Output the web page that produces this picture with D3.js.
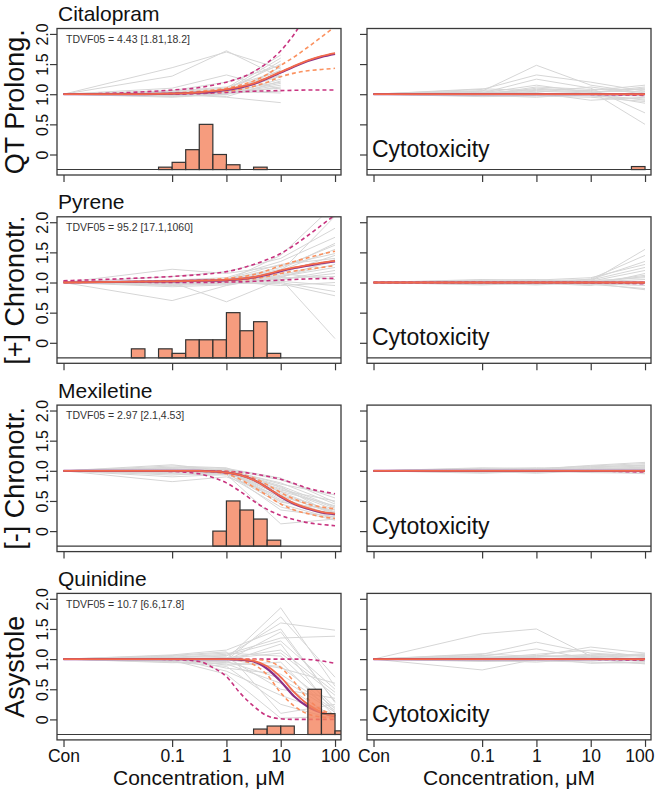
<!DOCTYPE html>
<html><head><meta charset="utf-8">
<script src="https://cdn.jsdelivr.net/npm/d3@7"></script>
<style>
body{margin:0;background:#fff}
text{font-family:"Liberation Sans",Arial,Helvetica,sans-serif}
</style>
</head><body>
<svg id="c" width="655" height="796"></svg>
<script>
// ---------------- DATA ----------------
const drugs = ["Citalopram","Pyrene","Mexiletine","Quinidine"];
const yTitles = ["QT Prolong.","[+] Chronotr.","[-] Chronotr.","Asystole"];
const tdvfLabels = ["TDVF05 = 4.43 [1.81,18.2]","TDVF05 = 95.2 [17.1,1060]","TDVF05 = 2.97 [2.1,4.53]","TDVF05 = 10.7 [6.6,17.8]"];
const rightLabel = "Cytotoxicity";
const xAxisTitle = "Concentration, \u03bcM";

// log10 concentration positions (Con plotted at -3)
const concLog = [-3,-1,0,1,2];
const xTickLabels = ["Con","0.1","1","10","100"];
const yTicks = [0,0.5,1,1.5,2];
const yTickLabels = ["0","0.5","1.0","1.5","2.0"];
const controlValue = 1;
const histBase = -0.25;
const binWidth = 0.25;

// individual traces: values at 0.1, 1, 10, 100 uM (null = not tested)
const grayCit = [
[1.02,1.03,1.10,null],[0.99,1.01,1.15,null],[1.00,1.05,1.20,null],[1.01,1.00,1.25,null],
[0.98,1.02,1.30,null],[1.03,1.06,1.35,null],[1.00,1.04,1.40,null],[0.97,0.99,1.45,null],
[1.02,1.08,1.50,null],[1.01,1.03,1.55,null],[0.99,1.07,1.60,null],[1.04,1.10,1.65,null],
[1.00,1.02,1.05,null],[0.98,1.00,1.12,null],[1.05,1.12,1.38,null],[1.01,0.96,1.22,null],
[0.96,1.01,1.18,null],[1.44,1.70,1.42,null],[1.30,1.72,1.28,null],[1.10,1.32,1.08,null],
[1.00,0.95,0.86,null],[1.06,1.20,1.48,null],[0.95,1.00,1.32,null],[1.02,1.05,1.02,null]];
const grayPyr = [
[1.00,1.02,1.10,1.30],[0.98,1.00,1.05,1.20],[1.02,1.04,1.15,1.45],[1.01,1.03,1.20,1.55],
[0.99,1.01,1.08,1.10],[1.03,1.05,1.25,1.62],[0.97,0.99,1.02,0.95],[1.00,1.06,1.30,1.40],
[1.02,1.00,1.12,1.35],[0.95,0.98,1.00,0.85],[1.04,1.08,1.35,1.75],[1.00,1.02,1.18,2.10],
[0.98,1.03,1.45,2.30],[1.01,1.00,0.98,0.78],[0.70,0.95,1.10,1.25],[1.00,0.68,1.05,1.15],
[1.22,1.15,1.28,1.48],[1.10,1.18,1.40,1.90],[0.96,1.01,1.06,0.07],[1.03,0.97,1.15,1.05],
[0.99,1.05,1.22,1.65],[1.01,1.02,0.95,1.00],[0.93,0.96,1.08,1.38]];
const grayMex = [
[1.00,0.98,0.70,0.35],[1.02,1.00,0.65,0.30],[0.98,0.97,0.60,0.28],[1.05,1.02,0.75,0.40],
[1.01,0.99,0.55,0.25],[0.97,0.95,0.50,0.22],[1.03,1.01,0.80,0.45],[1.00,0.96,0.45,0.20],
[0.99,1.03,0.85,0.55],[1.08,1.05,0.72,0.38],[0.95,0.93,0.40,0.18],[1.02,0.98,0.62,0.32],
[0.82,0.90,0.58,0.30],[1.10,1.00,0.68,0.50],[0.90,0.94,0.12,0.20],[1.00,1.02,0.78,0.60],
[0.96,0.99,0.52,0.27],[1.04,0.97,0.66,0.42],[0.98,1.01,0.48,0.35],[1.01,0.95,0.74,0.26],
[0.93,0.98,0.35,0.24],[1.06,1.04,0.88,0.48]];
const grayQui = [
[1.00,1.00,1.85,0.55],[1.02,1.05,1.60,1.48],[0.98,0.97,1.45,0.30],[1.03,1.08,1.35,1.38],
[1.00,0.95,1.25,0.10],[0.97,1.02,1.15,0.45],[1.05,1.10,1.05,0.20],[1.01,0.90,0.95,0.05],
[0.99,1.00,0.85,0.60],[1.04,0.85,0.75,0.15],[0.96,0.92,0.60,0.02],[1.00,1.03,0.50,0.35],
[1.02,0.80,0.40,0.08],[0.95,0.88,0.25,0.00],[1.06,1.12,0.10,0.25],[0.98,0.75,0.02,0.05],
[1.01,0.98,1.70,0.70],[1.03,1.06,1.30,0.50],[0.94,0.96,0.68,0.12],[1.00,1.01,1.10,0.40],
[0.99,0.94,0.88,0.18],[1.07,1.15,1.50,0.28]];
const grayCytoCit = [
[1.05,1.48,1.15,1.02],[1.08,1.32,1.20,1.05],[1.02,1.25,1.10,0.69],[0.98,1.10,1.05,0.50],
[1.00,1.05,1.02,1.10],[1.03,1.02,0.90,0.95],[0.97,0.98,1.00,0.85],[1.01,1.08,1.06,1.15],
[1.04,1.00,0.97,0.92],[0.99,1.12,1.08,1.08],[1.06,1.03,1.12,1.00],[0.96,0.97,0.95,0.88],
[1.02,1.15,1.03,1.12],[1.00,1.01,0.99,0.97],[1.09,1.06,1.04,1.05],[0.98,0.95,1.01,0.90]];
const grayCytoPyr = [
[1.00,1.02,1.00,1.10],[0.98,0.99,1.02,1.20],[1.02,1.01,0.98,0.95],[1.01,1.03,1.05,1.35],
[0.97,0.98,1.01,1.05],[1.03,1.00,0.97,0.90],[0.99,1.02,1.04,1.25],[1.00,0.97,1.06,1.45],
[1.04,1.05,1.00,1.00],[0.96,0.99,0.95,1.15],[1.02,1.04,1.08,1.30],[1.01,0.98,0.99,0.88],
[0.98,1.01,1.03,1.08],[1.05,1.03,1.02,1.55],[0.99,0.96,1.00,1.12],[1.00,1.00,0.96,0.98]];
const grayCytoMex = [
[1.00,1.02,1.03,1.05],[0.98,0.99,1.05,1.08],[1.02,1.01,0.98,1.00],[1.01,1.03,1.08,1.12],
[0.97,0.98,1.01,1.03],[1.03,1.00,0.97,0.96],[0.99,1.02,1.06,1.10],[1.00,0.97,1.04,1.06],
[1.04,1.05,1.02,1.02],[0.96,0.99,0.99,0.98],[1.02,1.04,1.07,1.09],[1.01,0.98,1.00,0.95],
[0.98,1.01,1.03,1.04],[1.05,1.03,1.09,1.14],[0.99,0.96,1.00,1.01],[1.00,1.00,0.98,1.07]];
const grayCytoQui = [
[1.42,1.50,1.05,1.00],[1.08,1.28,1.10,1.05],[1.05,1.17,1.00,0.98],[0.82,1.00,1.02,1.08],
[1.00,1.05,1.20,1.10],[1.03,1.02,0.93,0.95],[0.97,0.98,1.00,0.92],[1.01,1.08,1.15,1.04],
[1.04,1.00,0.97,1.02],[0.99,1.03,1.08,1.06],[1.06,1.01,1.03,0.97],[0.96,0.97,0.95,0.93],
[1.02,1.06,1.04,1.09],[1.00,1.01,0.99,1.00],[1.09,1.04,1.06,1.03],[0.98,0.95,1.01,0.96]];

// fitted curves sampled at these log10 concentrations
const curveLog = [-3,-2,-1,-0.5,-0.25,0,0.25,0.5,0.75,1,1.25,1.5,1.75,2];
const fitCit = {
  main:  [1.00,1.00,1.01,1.03,1.05,1.08,1.12,1.18,1.27,1.37,1.47,1.56,1.63,1.68],
  purple:[1.00,1.00,1.01,1.025,1.04,1.07,1.11,1.17,1.26,1.36,1.46,1.55,1.62,1.67],
  oUp:   [1.00,1.00,1.02,1.05,1.07,1.10,1.15,1.22,1.33,1.48,1.62,1.78,1.95,2.12],
  oLo:   [1.00,1.00,1.01,1.02,1.03,1.05,1.08,1.13,1.20,1.29,1.35,1.39,1.41,1.43],
  mUp:   [1.00,1.02,1.07,1.11,1.15,1.20,1.27,1.37,1.52,1.72,2.00,2.35,2.70,3.00],
  mLo:   [1.00,1.00,1.00,1.01,1.02,1.03,1.04,1.05,1.055,1.06,1.065,1.07,1.07,1.07]};
const fitPyr = {
  main:  [1.00,1.01,1.02,1.03,1.035,1.045,1.06,1.09,1.14,1.20,1.25,1.29,1.33,1.36],
  purple:[1.00,1.01,1.02,1.03,1.03,1.04,1.055,1.085,1.13,1.19,1.24,1.28,1.32,1.35],
  oUp:   [1.00,1.01,1.03,1.04,1.05,1.07,1.09,1.13,1.20,1.28,1.35,1.41,1.47,1.52],
  oLo:   [1.00,1.01,1.02,1.02,1.02,1.03,1.04,1.06,1.10,1.15,1.19,1.22,1.25,1.28],
  mUp:   [1.03,1.06,1.10,1.13,1.15,1.18,1.23,1.30,1.38,1.48,1.62,1.78,1.95,2.12],
  mLo:   [1.02,1.01,1.00,1.00,1.00,1.01,1.01,1.02,1.03,1.04,1.05,1.06,1.065,1.07]};
const fitMex = {
  main:  [1.00,1.00,1.00,1.00,0.99,0.97,0.93,0.85,0.72,0.58,0.46,0.38,0.32,0.29],
  purple:[1.00,1.00,1.00,1.00,0.99,0.97,0.93,0.85,0.72,0.57,0.45,0.37,0.31,0.28],
  oUp:   [1.00,1.00,1.00,1.00,1.00,0.99,0.95,0.88,0.77,0.64,0.53,0.45,0.40,0.37],
  oLo:   [1.00,1.00,1.00,0.99,0.98,0.95,0.86,0.73,0.59,0.45,0.35,0.29,0.24,0.21],
  mUp:   [1.00,1.00,1.00,1.00,1.00,0.99,0.98,0.95,0.91,0.86,0.79,0.71,0.66,0.62],
  mLo:   [1.00,1.00,0.99,0.95,0.89,0.80,0.66,0.50,0.36,0.26,0.19,0.14,0.11,0.09]};
const fitQui = {
  main:  [1.00,1.00,1.00,1.00,1.00,1.00,0.995,0.97,0.88,0.70,0.45,0.25,0.12,0.06],
  purple:[1.00,1.00,1.00,1.00,1.00,1.00,0.99,0.96,0.84,0.63,0.38,0.21,0.11,0.05],
  oUp:   [1.00,1.00,1.00,1.00,1.00,1.00,1.00,0.995,0.97,0.86,0.62,0.34,0.16,0.08],
  oLo:   [1.00,1.00,1.00,1.00,1.00,1.00,0.98,0.91,0.74,0.44,0.22,0.09,0.04,0.02],
  mUp:   [1.00,1.00,1.00,1.00,1.00,1.00,1.00,1.00,1.00,1.00,1.00,0.995,0.97,0.93],
  mLo:   [1.00,1.00,0.995,0.96,0.86,0.71,0.44,0.22,0.06,0.01,0.00,0.00,0.00,0.00]};
const fitCyto = {
  main:  [1.00,1.00,1.00,1.00,1.00,1.00,1.00,1.00,1.00,1.00,1.00,1.00,1.00,1.00],
  purple:[1.00,1.00,1.00,1.00,1.00,1.00,1.00,1.00,1.00,1.00,1.00,1.00,1.00,1.00],
  oUp:   [1.00,1.00,1.00,1.00,1.00,1.00,1.00,1.00,1.00,1.00,1.00,1.00,1.00,1.00],
  oLo:   [1.00,1.00,1.00,1.00,1.00,1.00,1.00,1.00,1.00,1.00,1.00,1.00,0.995,0.99],
  mUp:   [1.00,1.00,1.00,1.00,1.00,1.00,1.00,1.00,1.00,1.00,1.00,1.00,1.00,1.00],
  mLo:   [1.00,1.00,1.00,1.00,1.00,1.00,1.00,1.00,1.00,0.998,0.995,0.99,0.985,0.98]};

// histograms of TDVF05 bootstrap: bin start (log10 uM) and scaled frequency
const histLoCit = [-1.25,-1,-0.75,-0.5,-0.25,0,0.5];
const histHCit  = [0.04,0.12,0.33,0.75,0.25,0.08,0.04];
const histLoPyr = [-1.75,-1.25,-1,-0.75,-0.5,-0.25,0,0.25,0.5,0.75];
const histHPyr  = [0.15,0.15,0.075,0.3,0.3,0.3,0.75,0.45,0.6,0.075];
const histLoMex = [-0.25,0,0.25,0.5,0.75];
const histHMex  = [0.25,0.75,0.6,0.45,0.1];
const histLoQui = [0.5,0.75,1,1.5,1.75,2];
const histHQui  = [0.09,0.14,0.14,0.75,0.345,0.06];
const histLoCytoCit = [1.75];
const histHCytoCit  = [0.05];

// ---------------- LAYOUT / STYLE ----------------
const rowTop0 = 28.5, rowStep = 188.3, boxH = 146.5;
const colRange = [[57,341],[367,651]];
const xDomain = [-3.12, 2.11];
const yDomain = [-0.34, 2.09];
const colors = {gray:"#d6d6d6", main:"#f26a4b", purple:"#8c2f86", orange:"#fb9260", magenta:"#c8337f",
                bar:"#f4835e", frame:"#3a3a3a"};
const FONT = '"Liberation Sans",Arial,Helvetica,sans-serif';

const panels = [
  {gray:grayCit, fit:fitCit, hLo:histLoCit, hH:histHCit},
  {gray:grayCytoCit, fit:fitCyto, hLo:histLoCytoCit, hH:histHCytoCit},
  {gray:grayPyr, fit:fitPyr, hLo:histLoPyr, hH:histHPyr},
  {gray:grayCytoPyr, fit:fitCyto, hLo:[], hH:[]},
  {gray:grayMex, fit:fitMex, hLo:histLoMex, hH:histHMex},
  {gray:grayCytoMex, fit:fitCyto, hLo:[], hH:[]},
  {gray:grayQui, fit:fitQui, hLo:histLoQui, hH:histHQui},
  {gray:grayCytoQui, fit:fitCyto, hLo:[], hH:[]}
];

const svg = d3.select("#c");

panels.forEach((p, idx) => {
  const row = Math.floor(idx/2), col = idx % 2;
  const top = rowTop0 + rowStep*row, bottom = top + boxH;
  const x = d3.scaleLinear().domain(xDomain).range(colRange[col]);
  const y = d3.scaleLinear().domain(yDomain).range([bottom, top]);
  const g = svg.append("g");
  const cid = "clip"+idx;
  g.append("clipPath").attr("id",cid).append("rect")
    .attr("x",colRange[col][0]).attr("y",top)
    .attr("width",colRange[col][1]-colRange[col][0]).attr("height",boxH);
  const inner = g.append("g").attr("clip-path",`url(#${cid})`);

  // gray traces
  const lineG = d3.line().defined(d=>d[1]!==null).x(d=>x(d[0])).y(d=>y(d[1]));
  p.gray.forEach(vals => {
    const pts = [[concLog[0], controlValue]].concat(vals.map((v,i)=>[concLog[i+1], v]));
    inner.append("path").attr("d", lineG(pts)).attr("fill","none")
      .attr("stroke",colors.gray).attr("stroke-width",1);
  });

  // fitted curves
  const lineC = d3.line().x(d=>x(d[0])).y(d=>y(d[1])).curve(d3.curveMonotoneX);
  const mk = arr => arr.map((v,i)=>[curveLog[i], v]);
  const styles = [
    ["mUp", colors.magenta, 1.6, "4,3"], ["mLo", colors.magenta, 1.6, "4,3"],
    ["oUp", colors.orange, 1.6, "4,3"], ["oLo", colors.orange, 1.6, "4,3"],
    ["purple", colors.purple, 2.2, null], ["main", colors.main, 1.8, null]];
  styles.forEach(([k, c, w, dash]) => {
    const path = inner.append("path").attr("d", lineC(mk(p.fit[k]))).attr("fill","none")
      .attr("stroke", c).attr("stroke-width", w);
    if (dash) path.attr("stroke-dasharray", dash);
  });

  // histogram
  p.hLo.forEach((lo, i) => {
    inner.append("rect")
      .attr("x", x(lo)).attr("width", x(lo+binWidth)-x(lo))
      .attr("y", y(histBase + p.hH[i])).attr("height", y(histBase) - y(histBase + p.hH[i]))
      .attr("fill", colors.bar).attr("fill-opacity",0.8)
      .attr("stroke","#333").attr("stroke-width",1.2);
  });

  // baseline of histogram
  g.append("line").attr("x1",colRange[col][0]).attr("x2",colRange[col][1])
    .attr("y1",y(histBase)).attr("y2",y(histBase))
    .attr("stroke",colors.frame).attr("stroke-width",1.1);

  // frame
  g.append("rect").attr("x",colRange[col][0]).attr("y",top)
    .attr("width",colRange[col][1]-colRange[col][0]).attr("height",boxH)
    .attr("fill","none").attr("stroke",colors.frame).attr("stroke-width",1.3);

  // x axis
  const last = row === 3;
  const ax = g.append("g").attr("transform",`translate(0,${bottom})`)
    .call(d3.axisBottom(x).tickValues(concLog).tickSize(7).tickPadding(3)
      .tickFormat((d,i)=> last ? xTickLabels[i] : ""));
  ax.select(".domain").remove();
  ax.selectAll("line").attr("stroke",colors.frame).attr("stroke-width",1.2);
  ax.selectAll("text").attr("font-size",17.5).attr("fill","#111").style("font-family",FONT);
  if (last && col === 1) {
    // keep the last label inside the page like the reference
    ax.selectAll("text").filter((d,i)=> i === concLog.length-1)
      .attr("text-anchor","end").attr("x", colRange[1][1]+3 - x(concLog[concLog.length-1]));
  }

  // y axis
  const ay = g.append("g").attr("transform",`translate(${colRange[col][0]},0)`)
    .call(d3.axisLeft(y).tickValues(yTicks).tickSize(7)
      .tickFormat((d,i)=> col===0 ? yTickLabels[i] : ""));
  ay.select(".domain").remove();
  ay.selectAll("line").attr("stroke",colors.frame).attr("stroke-width",1.2);
  ay.selectAll("text").attr("x",null).attr("dy",null)
    .attr("transform","translate(-9,0) rotate(-90)").attr("text-anchor","middle")
    .attr("font-size",16).attr("fill","#111").style("font-family",FONT);

  if (col === 0) {
    g.append("text").attr("x",58).attr("y",top-7.5).attr("font-size",21).attr("fill","#111")
      .text(drugs[row]);
    g.append("text").attr("x",66).attr("y",top+14.2).attr("font-size",10.5).attr("fill","#333")
      .text(tdvfLabels[row]);
    g.append("text").attr("transform",`translate(24,${top+boxH/2}) rotate(-90)`)
      .attr("text-anchor","middle").attr("font-size",27).attr("fill","#111").text(yTitles[row]);
  } else {
    g.append("text").attr("x",372).attr("y",top+128.5).attr("font-size",23).attr("fill","#111")
      .text(rightLabel);
  }
  if (last) {
    g.append("text").attr("x",(colRange[col][0]+colRange[col][1])/2).attr("y",785)
      .attr("text-anchor","middle").attr("font-size",21).attr("fill","#111").text(xAxisTitle);
  }
});
</script>
</body></html>
